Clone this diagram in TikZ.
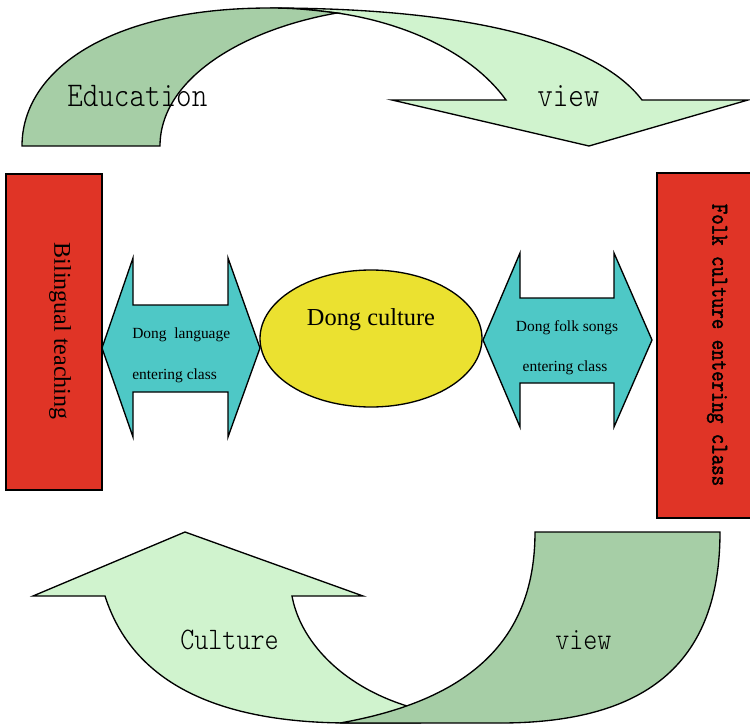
\documentclass[tikz,border=0pt]{standalone}
\usepackage{fontspec}
\setmainfont{Liberation Serif}
\newfontfamily\tallmono[Extension=.otf, FakeStretch=0.855]{lmmonolt10-regular}
\newfontfamily\heavymono[Extension=.otf, FakeStretch=0.83, FakeBold=1.6]{lmmono10-regular}
\usetikzlibrary{shapes.geometric}

\definecolor{boxred}{RGB}{224,52,38}
\definecolor{aqua}{RGB}{78,200,198}
\definecolor{sun}{RGB}{235,225,48}
\definecolor{deepgreen}{RGB}{166,206,166}
\definecolor{palegreen}{RGB}{208,243,206}

\tikzset{
  outline/.style={draw=black, line width=1pt, line join=miter},
  backband/.style={outline, fill=deepgreen},
  frontband/.style={outline, fill=palegreen},
  sidebox/.style={outline, fill=boxred},
  twoway/.style={outline, fill=aqua},
  plain/.style={inner sep=0pt, text=black},
}

\begin{document}
\begin{tikzpicture}[x=0.75pt, y=-0.75pt]
\clip (0,0) rectangle (750,724);
\useasboundingbox (0,0) rectangle (750,724);

% upper curved arrow: front part with the head pointing down
\filldraw[frontband] (270,8) .. controls (480,8) and (600,45) .. (642,100)
  -- (748,100) -- (589,146) -- (392,100) -- (506,100)
  .. controls (470,50) and (400,22) .. (337,13)
  .. controls (320,11) and (300,8) .. (270,8) -- cycle;
% upper curved arrow: back part
\filldraw[backband] (22,146) .. controls (22,70) and (110,8) .. (270,8)
  .. controls (300,8) and (320,11) .. (337,13)
  .. controls (240,30) and (160,80) .. (160,146) -- cycle;

% lower curved arrow: front part with the head pointing up
\filldraw[frontband] (105,596) .. controls (135,690) and (230,723) .. (350,723)
  -- (420,723) -- (407,706)
  .. controls (340,685) and (300,640) .. (292,596)
  -- (363,596) -- (185,532) -- (33,596) -- cycle;
% lower curved arrow: back part
\filldraw[backband] (535,532) -- (720,532)
  .. controls (720,660) and (650,723) .. (500,723) -- (340,723)
  .. controls (470,700) and (535,640) .. (535,532) -- cycle;

% side boxes
\filldraw[sidebox] (6,174) rectangle (102,490);
\filldraw[sidebox] (657,173) rectangle (760,518);

% double-headed arrows
\filldraw[twoway] (102,348) -- (133,258) -- (133,305) -- (228,305) -- (228,258)
  -- (260,348) -- (228,437) -- (228,392) -- (133,392) -- (133,437) -- cycle;
\filldraw[twoway] (483,340) -- (520,253) -- (520,298) -- (614,298) -- (614,253)
  -- (652,340) -- (614,427) -- (614,383) -- (520,383) -- (520,427) -- cycle;

% central ellipse
\node[ellipse, outline, fill=sun, inner sep=0pt,
      minimum width=166.5pt, minimum height=102.75pt] (core) at (371,338.5) {};

% labels
\node[plain, anchor=base, font=\fontsize{18.3}{20}\selectfont] (coretext) at (371,325.7) {Dong culture};

\node[plain, anchor=base west, font=\fontsize{11.6}{13}\selectfont] (langa) at (132,338) {Dong\ \ language};
\node[plain, anchor=base west, font=\fontsize{11.6}{13}\selectfont] (langb) at (132,379) {entering class};

\node[plain, anchor=base, font=\fontsize{11.6}{13}\selectfont] (songa) at (567,331.7) {Dong folk songs};
\node[plain, anchor=base, font=\fontsize{11.6}{13}\selectfont] (songb) at (565,371.7) {entering class};

\node[plain, rotate=-90, font=\fontsize{18}{20}\selectfont] (bil) at (60,331) {Bilingual teaching};
\node[plain, rotate=-90, font=\heavymono\fontsize{18}{20}\selectfont] (folk) at (717,345) {Folk culture entering class};

\node[plain, anchor=base west, font=\tallmono\fontsize{26}{28}\selectfont] (edu) at (67,106.7) {Education};
\node[plain, anchor=base west, font=\tallmono\fontsize{26}{28}\selectfont] (viewtop) at (537,106.7) {view};
\node[plain, anchor=base west, font=\tallmono\fontsize{23.5}{25}\selectfont] (cult) at (180,649) {Culture};
\node[plain, anchor=base west, font=\tallmono\fontsize{23.5}{25}\selectfont] (viewbot) at (555,649) {view};
\end{tikzpicture}
\end{document}
